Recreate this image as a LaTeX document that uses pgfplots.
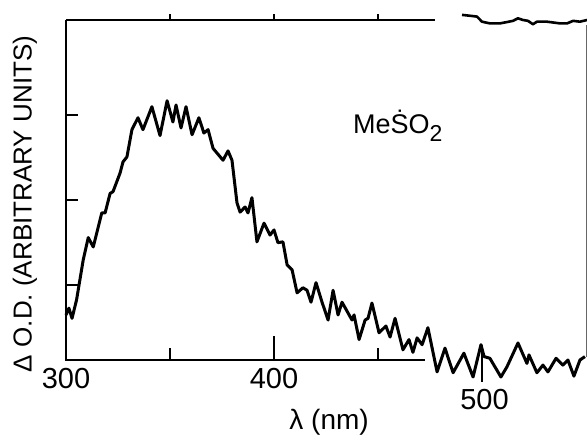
\documentclass[border=0pt]{standalone}
\usepackage{pgfplots}
\pgfplotsset{compat=1.18}
\usepackage{fontspec}
\setmainfont{Liberation Sans}

\pgfplotstableread{
x y
300.0 0.53
301.4 0.61
302.9 0.49
305.1 0.71
308.3 1.18
310.7 1.44
313.1 1.33
317.2 1.73
318.8 1.73
321.2 1.96
322.6 1.98
326.0 2.20
327.4 2.33
329.3 2.39
331.7 2.71
334.6 2.85
337.0 2.71
341.3 2.98
345.2 2.64
348.6 3.05
351.4 2.80
352.9 3.00
355.3 2.73
357.7 2.98
360.6 2.65
363.9 2.85
366.3 2.67
368.3 2.71
370.7 2.49
375.5 2.35
377.9 2.46
379.8 2.35
382.2 1.85
383.7 1.74
386.1 1.80
387.5 1.73
389.4 1.91
391.8 1.39
395.2 1.61
398.1 1.47
400.0 1.53
401.9 1.38
404.3 1.39
406.3 1.12
408.7 1.06
411.1 0.79
413.9 0.85
415.9 0.82
417.8 0.68
420.2 0.91
423.1 0.68
426.0 0.47
428.4 0.82
430.8 0.53
432.7 0.68
437.5 0.47
438.5 0.53
440.9 0.24
443.8 0.47
445.2 0.49
447.1 0.67
450.5 0.32
453.8 0.40
455.8 0.27
458.2 0.49
462.0 0.12
464.9 0.24
466.8 0.09
468.8 0.26
471.2 0.18
474.0 0.38
478.4 -0.14
482.2 0.14
486.1 -0.15
491.3 0.08
495.7 -0.20
499.5 0.18
501.0 0.04
503.8 0.02
509.1 -0.20
512.0 -0.08
517.3 0.20
521.6 -0.04
522.6 0.06
526.4 -0.15
529.3 -0.06
531.7 -0.14
535.6 0.02
538.9 -0.06
541.3 0.00
544.2 -0.19
547.1 0.00
549.5 0.04
}\mainspec

\pgfplotstableread{
x y
490.4 4.06
494.2 4.05
497.6 4.04
500.0 3.98
503.8 3.96
508.7 3.96
514.9 3.99
517.3 4.02
519.7 4.00
522.1 3.99
524.5 3.95
526.4 3.98
531.3 3.98
537.5 3.96
540.9 3.96
543.8 3.99
547.1 3.98
550.5 4.00
}\topspec

\begin{document}
\begin{tikzpicture}
\useasboundingbox (-66pt,-86pt) rectangle (521pt,360pt);
\begin{axis}[
  at={(0pt,0pt)}, anchor=south west,
  scale only axis, width=520pt, height=340pt,
  xmin=300, xmax=550, ymin=0, ymax=4,
  clip=false,
  axis line style={draw=none},
  xtick={300,350,400,450}, xticklabels={300,,400,},
  xtick pos=bottom, ytick pos=left,
  ytick={0.88,1.88,2.88}, yticklabels={},
  major tick length=12pt,
  tick style={line width=2pt, black},
  tick label style={font=\fontsize{29}{32}\selectfont},
  xticklabel style={yshift=-5pt},
  xlabel={λ (nm)}, ylabel={Δ O.D. (ARBITRARY UNITS)},
  xlabel style={font=\fontsize{28}{32}\selectfont, at={(axis description cs:0.506,0)}, anchor=center, yshift=-62pt},
  ylabel style={font=\fontsize{26}{30}\selectfont, at={(axis description cs:-0.079,0.459)}, anchor=center},
]
\addplot[black, line width=3pt, line join=round] table[x=x,y=y] {\mainspec};
\addplot[black, line width=2.6pt, line join=round] table[x=x,y=y] {\topspec};
% axis frame pieces (broken scan)
\draw[line width=2.6pt] (axis cs:300,4) -- (axis cs:300,0) -- (axis cs:472.6,0);
\draw[line width=2.6pt] (axis cs:300,4) -- (axis cs:477.4,4);
\draw[line width=0.8pt, black!60] (axis cs:550,3.94) -- (axis cs:550,0.04);
\draw[line width=2pt] (axis cs:350,4) -- (axis cs:350,4.07);
\draw[line width=2pt] (axis cs:400,4) -- (axis cs:400,4.07);
\draw[line width=2pt] (axis cs:450,4) -- (axis cs:450,4.07);
\draw[line width=2pt] (axis cs:400,0) -- (axis cs:400,0.28);
\draw[line width=2pt] (axis cs:500,0.18) -- (axis cs:500,-0.26);
\node[font=\fontsize{29}{32}\selectfont] at (axis cs:501.2,-0.47) {500};
\node[font=\fontsize{27}{30}\selectfont] at (axis cs:459.5,2.76) {Me\.SO\raisebox{-0.3em}{\fontsize{23}{26}\selectfont 2}};
\end{axis}
\end{tikzpicture}
\end{document}
